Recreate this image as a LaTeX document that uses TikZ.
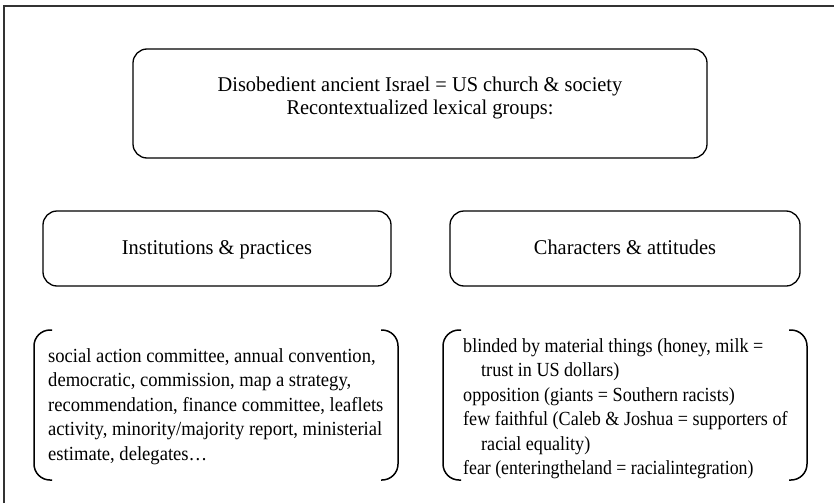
\documentclass[tikz,border=0pt]{standalone}
\usepackage{fontspec}
\setmainfont{Liberation Serif}
\newfontfamily\headfont{Liberation Serif}[FakeStretch=0.97]
\newfontfamily\listfont{Liberation Serif}[FakeStretch=0.93]
\newfontfamily\rlistfont{Liberation Serif}[FakeStretch=0.905]
\newfontfamily\narrowfont{Liberation Serif}[FakeStretch=0.89]
\begin{document}
\begin{tikzpicture}[x=1pt,y=-1pt,
  rbox/.style={draw, rounded corners=14pt, line width=1.3pt, inner sep=0pt},
  head/.style={font=\headfont\fontsize{21}{23.3}\selectfont, align=center, inner sep=0pt},
  brk/.style={draw, rounded corners=16pt, line width=1.5pt},
  lst/.style={font=\listfont\fontsize{20}{24.5}\selectfont, align=left, anchor=north west, inner sep=0pt}]
\useasboundingbox (0,0) rectangle (834,503);
\draw[line width=1.5pt, black!80] (4,503) -- (4,6) -- (834,6);
\node[rbox, minimum width=574pt, minimum height=109pt] (top) at (420,103.5) {};
\node[head, anchor=north] (toptext) at (420,74.7)
  {\strut Disobedient ancient Israel = US church \& society\\Recontextualized lexical groups:};
\node[rbox, minimum width=348pt, minimum height=75pt] (inst) at (217,248.5) {};
\node[head, anchor=base] (insttext) at (inst.center |- 0,254) {Institutions \& practices};
\node[rbox, minimum width=350pt, minimum height=75pt] (char) at (625,248.5) {};
\node[head, anchor=base] (chartext) at (char.center |- 0,254) {Characters \& attitudes};
\node[lst] (instlist) at (48,344.85) {\strut social action committee, annual convention,\\democratic, commission, map a strategy,\\recommendation, finance committee, leaflets\\activity, minority/majority report, ministerial\\estimate, delegates\ldots};
\node[lst, font=\rlistfont\fontsize{20}{24.5}\selectfont] (charlist) at (463,334.85) {\strut blinded by material things (honey, milk =\\\hspace*{18pt}trust in US dollars)\\opposition (giants = Southern racists)\\few faithful (Caleb \& Joshua = supporters of\\\hspace*{18pt}racial equality)\\{\narrowfont fear (enteringtheland = racialintegration)}};
\draw[brk] (52,330) -- (34,330) -- (34,480) -- (52,480);
\draw[brk] (381,330) -- (398,330) -- (398,480) -- (381,480);
\draw[brk] (461,330) -- (443,330) -- (443,480) -- (461,480);
\draw[brk] (789,330) -- (807,330) -- (807,480) -- (789,480);
\end{tikzpicture}
\end{document}
